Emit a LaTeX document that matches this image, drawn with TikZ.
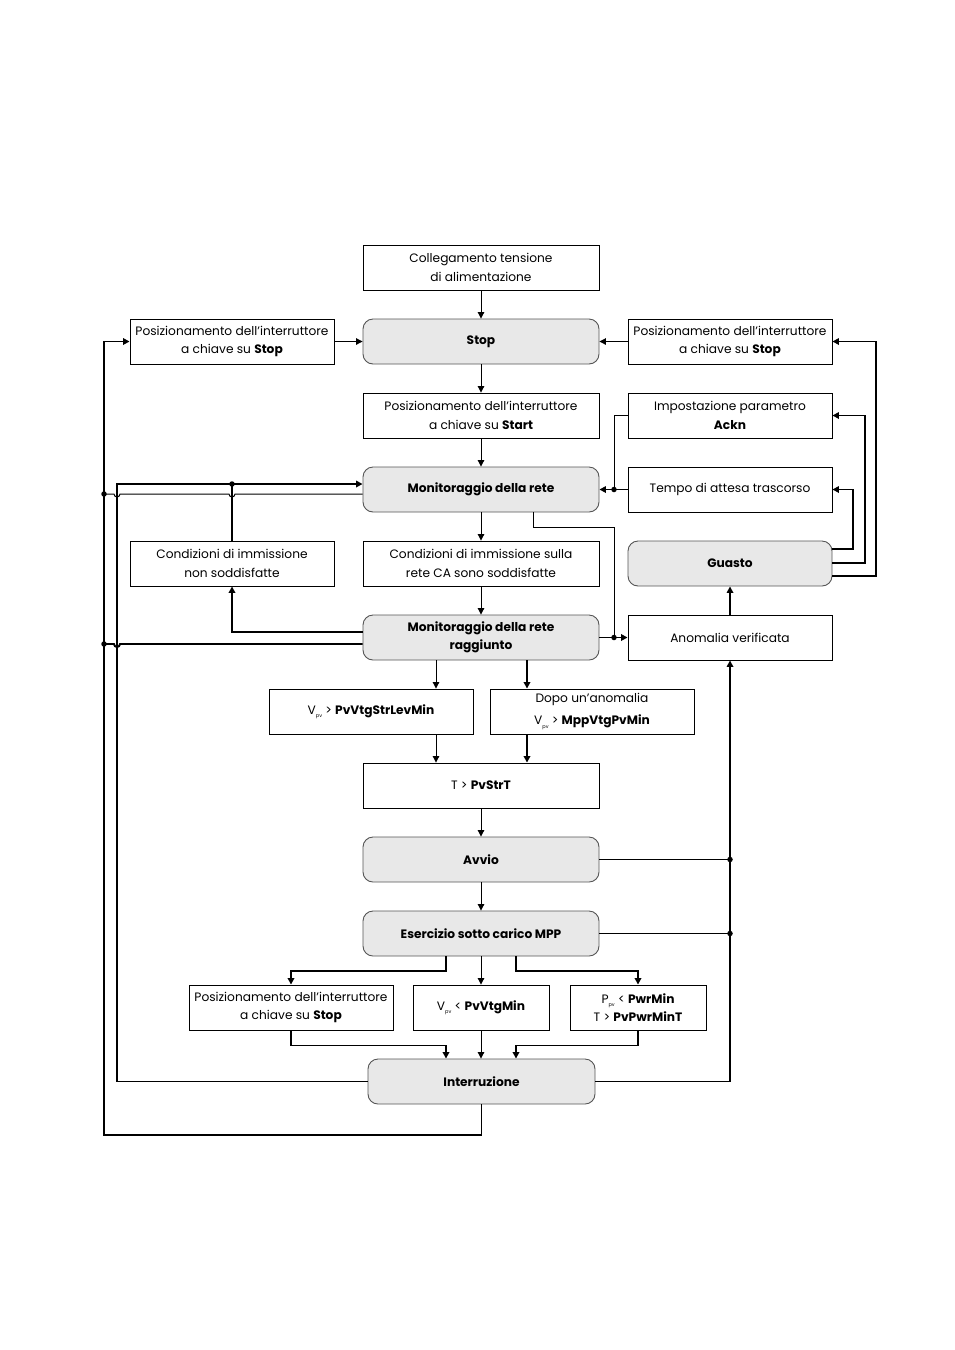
\documentclass[tikz,border=0pt]{standalone}
\usepackage{fontspec}
\setmainfont{Poppins}
\usetikzlibrary{arrows.meta}
\definecolor{boxgray}{RGB}{232,232,232}
\definecolor{rimgray}{RGB}{85,85,85}
\newcommand\pvsub[1]{\raisebox{-0.5ex}{\fontsize{5}{5}\selectfont #1}}
\begin{document}
\begin{tikzpicture}[x=1pt,y=-1pt,
  >={Triangle[length=6.5pt,width=6.5pt]},
  box/.style={draw=black, line width=0.9pt, rectangle, minimum width=#1, minimum height=45pt,
    inner sep=0pt, align=center, font=\fontsize{12.2}{18.5}\selectfont},
  box/.default=204pt,
  rbox/.style={box=#1, draw=rimgray, fill=boxgray, rounded corners=10pt},
  rbox/.default=236pt,
  thin/.style={line width=1pt},
  thick/.style={line width=1.9pt},
  dot/.style={circle, fill=black, inner sep=0pt, minimum size=5.5pt}
]
\useasboundingbox (0,0) rectangle (954,1350);
\fill[white] (0,0) rectangle (954,1350);

% nodes
\node[box=236pt] (coll) at (481,267.5) {Collegamento tensione\\di alimentazione};
\node[rbox] (stop) at (481,341.5) {\textbf{Stop}};
\node[box] (psL) at (232,341.5) {Posizionamento dell’interruttore\\a chiave su \textbf{Stop}};
\node[box] (psR) at (730,341.5) {Posizionamento dell’interruttore\\a chiave su \textbf{Stop}};
\node[box=236pt] (pstart) at (481,415.5) {Posizionamento dell’interruttore\\a chiave su \textbf{Start}};
\node[box] (ackn) at (730,415.5) {Impostazione parametro\\\textbf{Ackn}};
\node[rbox] (mon) at (481,489.5) {\textbf{Monitoraggio della rete}};
\node[box] (tempo) at (730,489.5) {Tempo di attesa trascorso};
\node[box] (cnon) at (232,563.5) {Condizioni di immissione\\non soddisfatte};
\node[box=236pt] (cok) at (481,563.5) {Condizioni di immissione sulla\\rete CA sono soddisfatte};
\node[rbox=204pt] (guasto) at (730,563.5) {\textbf{Guasto}};
\node[rbox] (monr) at (481,637.5) {\textbf{Monitoraggio della rete}\\\textbf{raggiunto}};
\node[box] (anom) at (730,637.5) {Anomalia verificata};
\node[box] (vstr) at (371,711.5) {V\pvsub{pv} > \textbf{PvVtgStrLevMin}};
\node[box, font=\fontsize{12.2}{22}\selectfont] (dopo) at (592,711.5) {Dopo un’anomalia\\V\pvsub{pv} > \textbf{MppVtgPvMin}};
\node[box=236pt] (tpv) at (481,785.5) {T > \textbf{PvStrT}};
\node[rbox] (avvio) at (481,859.5) {\textbf{Avvio}};
\node[rbox] (eserc) at (481,933.5) {\textbf{Esercizio sotto carico MPP}};
\node[box] (psB) at (291,1007.5) {Posizionamento dell’interruttore\\a chiave su \textbf{Stop}};
\node[box=136pt] (vmin) at (481,1007.5) {V\pvsub{pv} < \textbf{PvVtgMin}};
\node[box=136pt] (pmin) at (638,1007.5) {P\pvsub{pv} < \textbf{PwrMin}\\T > \textbf{PvPwrMinT}};
\node[rbox=227pt] (interr) at (481.5,1081.5) {\textbf{Interruzione}};

% main flow
\draw[thin,->] (coll) -- (stop);
\draw[thin,->] (psL) -- (stop);
\draw[thin,->] (psR) -- (stop);
\draw[thin,->] (stop) -- (pstart);
\draw[thin,->] (pstart) -- (mon);
\draw[thin,->] (mon) -- (cok);
\draw[thin,->] (cok) -- (monr);

% right side
\coordinate (jA) at (614,489.5);
\draw[thin] (ackn.west) -| (jA);
\draw[thick,->] (tempo.west) -- (mon.east);
\node[dot] (dA) at (jA) {};
\draw[thick,->] (guasto.east |- 0,549) -| (853,489.5) -- (tempo.east);
\draw[thick,->] (guasto.east |- 0,563) -| (865,415.5) -- (ackn.east);
\draw[thick,->] (guasto.east |- 0,576) -| (876,341.5) -- (psR.east);

\coordinate (jB) at (614,637.5);
\draw[thin] (mon.south -| 533,0) |- (614,527) -- (jB);
\draw[thick,->] (monr.east) -- (anom.west);
\node[dot] (dB) at (jB) {};
\draw[thick,->] (anom) -- (guasto);

% left side
\coordinate (jC) at (232,484);
\draw[thick] (cnon.north) -- (jC);
\draw[thick,->] (interr.west) -| (117,484) -- (mon.west |- 0,484);
\node[dot] (dC) at (jC) {};
\draw[thin] (mon.west |- 0,494) -- (235,494) arc[start angle=0, end angle=180, radius=3]
  -- (120,494) arc[start angle=0, end angle=180, radius=3] -- (104,494);
\draw[thick] (monr.west |- 0,644) -- (120,644) arc[start angle=0, end angle=180, radius=3] -- (104,644);
\draw[thick,->] (monr.west |- 0,632) -| (cnon.south);
\draw[thick,->] (interr.south) |- (104,1135) -- (104,341.5) -- (psL.west);
\node[dot] (dD) at (104,494) {};
\node[dot] (dE) at (104,644) {};

% middle
\draw[thin,->] (monr.south -| 436,0) -- (vstr.north -| 436,0);
\draw[thick,->] (monr.south -| 527,0) -- (dopo.north -| 527,0);
\draw[thin,->] (vstr.south -| 436,0) -- (tpv.north -| 436,0);
\draw[thick,->] (dopo.south -| 527,0) -- (tpv.north -| 527,0);
\draw[thin,->] (tpv) -- (avvio);
\draw[thin,->] (avvio) -- (eserc);

% right return to anomalia
\draw[thick] (avvio.east) -- (730,859.5);
\draw[thin] (eserc.east) -- (730,933.5);
\draw[thick,->] (interr.east) -| (anom.south);
\node[dot] (dF) at (730,859.5) {};
\node[dot] (dG) at (730,933.5) {};

% bottom branches
\draw[thick,->] (eserc.south -| 446,0) |- (291,971) -- (psB.north);
\draw[thin,->] (eserc) -- (vmin);
\draw[thick,->] (eserc.south -| 516,0) |- (638,971) -- (pmin.north);
\draw[thick,->] (psB.south) |- (446,1045.5) -- (interr.north -| 446,0);
\draw[thin,->] (vmin.south) -- (vmin.south |- interr.north);
\draw[thick,->] (pmin.south) |- (516,1045.5) -- (interr.north -| 516,0);
\end{tikzpicture}
\end{document}
